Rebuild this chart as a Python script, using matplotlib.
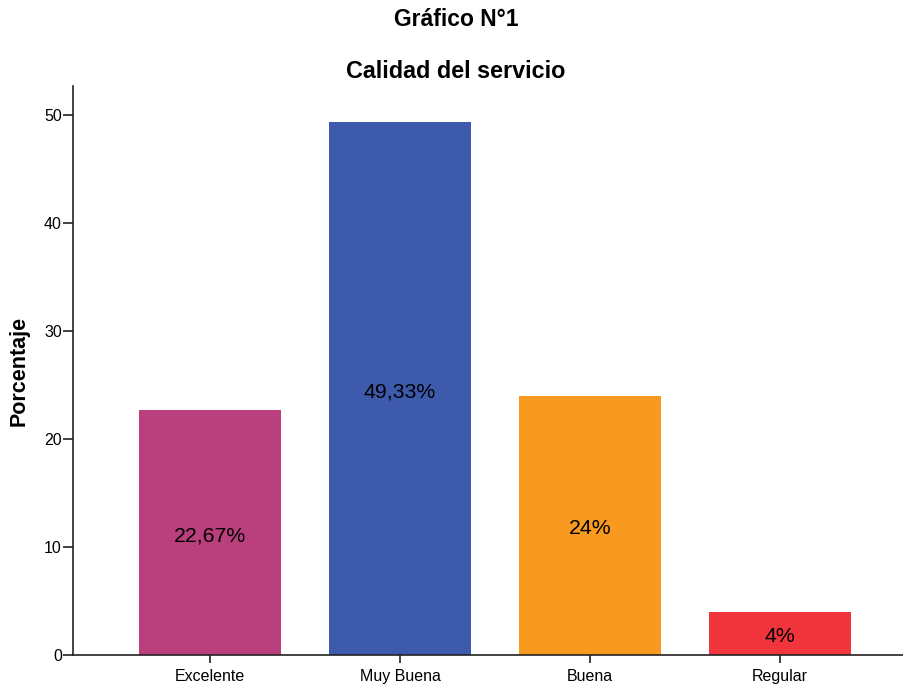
import matplotlib
matplotlib.use("Agg")
import matplotlib.pyplot as plt

categories = ["Excelente", "Muy Buena", "Buena", "Regular"]
values = [22.67, 49.33, 24.0, 4.0]
labels = ["22,67%", "49,33%", "24%", "4%"]
colors = ["#B9407C", "#3E5AAD", "#F89A20", "#F0353D"]
yticks = [0, 10, 20, 30, 40, 50]

plt.rcParams['font.family'] = ['Liberation Sans', 'DejaVu Sans']

fig = plt.figure(figsize=(9.04, 6.84), dpi=100)
ax = fig.add_axes([73/904, 1-655/684, 1-73/904, (655-86)/684])

x = list(range(len(categories)))
ax.bar(x, values, width=0.75, color=colors, zorder=2)
for xi, v, lab in zip(x, values, labels):
    ax.text(xi, v/2 - 0.3, lab, ha='center', va='center', fontsize=15.3, color='black')

ax.set_xlim(-0.721, 3.653)
ax.set_ylim(0, 52.7)
ax.set_xticks(x)
ax.set_xticklabels(categories, fontsize=11.5)
ax.set_yticks(yticks)
ax.set_yticklabels([str(t) for t in yticks], fontsize=11.5)
ax.tick_params(axis='y', direction='out', length=7.5, width=1.2, color='#222222', pad=0.5)
ax.tick_params(axis='x', direction='out', length=6, width=1.2, color='#222222', pad=4)
for s in ['top', 'right']:
    ax.spines[s].set_visible(False)
for s in ['left', 'bottom']:
    ax.spines[s].set_linewidth(1.2)
    ax.spines[s].set_color('#222222')
ax.set_ylabel("Porcentaje", fontsize=15.5, fontweight='bold', labelpad=10)

fig.text(456/904, 1-20/684, "Gráfico N°1", ha='center', va='center', fontsize=16.5, fontweight='bold')
fig.text(456/904, 1-71/684, "Calidad del servicio", ha='center', va='center', fontsize=16.8, fontweight='bold')

fig.savefig("out.png", dpi=100)
